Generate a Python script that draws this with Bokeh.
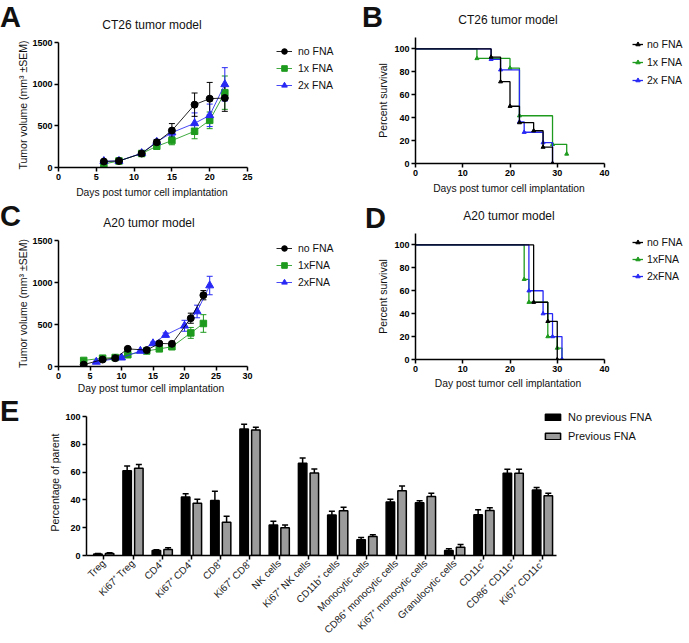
import numpy as np
from bokeh.plotting import figure
from bokeh.layouts import column, row
from bokeh.models import (ColumnDataSource, Whisker, TeeHead, Legend, LegendItem,
                          FixedTicker, Range1d, Div)
from bokeh.embed import file_html
from bokeh.resources import INLINE

FONT = "Liberation Sans"
BLACK = "#000000"
GREEN = "#1e9b1e"
BLUE = "#2828f5"

# ---------------- data ----------------
# Panel A: CT26 tumour growth
days_a = [6, 8, 11, 13, 15, 18, 20, 22]
a_no = [72, 79, 168, 303, 443, 754, 826, 834]
a_no_err = [10, 12, 15, 30, 84, 140, 195, 160]
a_1x = [43, 78, 168, 255, 323, 435, 566, 898]
a_1x_err = [10, 12, 15, 20, 50, 90, 100, 200]
a_2x = [76, 78, 172, 307, 419, 530, 626, 998]
a_2x_err = [10, 12, 15, 30, 40, 125, 135, 200]
a_labels = ["no FNA", "1x FNA", "2x FNA"]

# Panel B: CT26 survival
b_no_t = [0, 16, 18, 20, 22, 25, 27, 29]
b_no_s = [100, 92.9, 71.4, 50, 35.7, 28.6, 14.3, 0]
b_1x_t = [0, 13, 20, 22, 29, 32]
b_1x_s = [100, 91.7, 83.3, 41.7, 16.7, 8.3]
b_2x_t = [0, 16, 18, 22, 23, 27, 29]
b_2x_s = [100, 90.9, 81.8, 36.4, 27.3, 18.2, 0]
b_labels = ["no FNA", "1x FNA", "2x FNA"]

# Panel C: A20 tumour growth
days_c = [4, 7, 9, 11, 14, 16, 18, 21, 23]
c_no = [22, 83, 99, 210, 195, 275, 270, 575, 849]
c_no_err = [10, 15, 15, 20, 15, 20, 25, 60, 55]
c_1x = [72, 99, 107, 140, 185, 210, 235, 400, 512]
c_1x_err = [10, 10, 15, 15, 15, 20, 25, 65, 105]
days_c2 = [6, 10, 13, 15, 17, 20, 22, 24]
c_2x = [55, 105, 185, 275, 375, 485, 655, 964]
c_2x_err = [10, 15, 15, 15, 25, 65, 75, 110]
c_labels = ["no FNA", "1xFNA", "2xFNA"]

# Panel D: A20 survival
d_no_t = [0, 25, 28, 30]
d_no_s = [100, 50, 33.3, 0]
d_1x_t = [0, 23, 24, 28, 30, 31]
d_1x_s = [100, 70, 50, 20, 10, 0]
d_2x_t = [0, 24, 27, 29, 31]
d_2x_s = [100, 60, 40, 20, 0]
d_labels = ["no FNA", "1xFNA", "2xFNA"]

# Panel E: immune populations
cats = ["Treg", "Ki67\u207a Treg", "CD4\u207a", "Ki67\u207a CD4\u207a", "CD8\u207a",
        "Ki67\u207a CD8\u207a", "NK cells", "Ki67\u207a NK cells", "CD11b\u207a cells",
        "Monocytic cells", "CD86\u207a monocytic cells", "Ki67\u207a monocytic cells",
        "Granulocytic cells", "CD11c\u207a", "CD86\u207a CD11c\u207a", "Ki67\u207a CD11c\u207a"]
no_prev = [1, 61, 3.6, 42, 39.5, 91, 22, 66.3, 29.2, 11.3, 38.4, 37.9, 3.6, 29.3, 59.2, 47.2]
no_prev_err = [0.5, 3.4, 0.6, 2.4, 6.7, 3.4, 2.6, 3.8, 2.6, 1.7, 2.1, 1.4, 1.2, 3.7, 2.8, 1.7]
prev = [1.4, 62.7, 4.3, 37.6, 23.9, 90.2, 19.9, 59.3, 32.2, 13.7, 46.5, 42.4, 6, 32.4, 59.2, 42.9]
prev_err = [0.5, 2.8, 1.2, 2.8, 4.3, 2.1, 2.1, 2.9, 2.5, 1.3, 3.5, 2.4, 1.9, 1.9, 2.8, 1.9]
e_labels = ["No previous FNA", "Previous FNA"]

panel_titles = ["CT26 tumor model", "CT26 tumor model", "A20 tumor model", "A20 tumor model"]
x_titles = ["Days post tumor cell implantation", "Days post tumor cell implantation",
            "Day post tumor cell implantation", "Day post tumor cell implantation"]
y_growth = "Tumor volume (mm\u00b3 \u00b1SEM)"
y_surv = "Percent survival"
y_e = "Percentage of parent"


# ---------------- helpers ----------------
def ext(start, end, axis_px, frame_px):
    """Extend a range so that [start, end] spans axis_px of a frame_px wide frame."""
    return (start, start + (end - start) * frame_px / axis_px)


def make_fig(w, h, left, right, top, bottom, xr, yr, xb, yb):
    p = figure(width=w, height=h, x_range=Range1d(*xr), y_range=Range1d(*yr),
               output_backend="svg", toolbar_location=None,
               min_border_left=left, min_border_right=right,
               min_border_top=top, min_border_bottom=bottom)
    p.outline_line_color = None
    p.grid.visible = False
    p.xaxis.bounds = xb
    p.yaxis.bounds = yb
    return p


def style_axes(p, ylabel, xticks, yticks, ystandoff, lab_size="10.5px"):
    p.yaxis.axis_label = ylabel
    p.xaxis.ticker = FixedTicker(ticks=xticks)
    p.yaxis.ticker = FixedTicker(ticks=yticks)
    for ax in (p.xaxis[0], p.yaxis[0]):
        ax.axis_line_width = 1.5
        ax.axis_line_color = "black"
        ax.major_tick_line_width = 1.5
        ax.major_tick_line_color = "black"
        ax.major_tick_in = 0
        ax.major_tick_out = 4
        ax.minor_tick_line_color = None
        ax.major_label_text_font = FONT
        ax.major_label_text_font_style = "bold"
        ax.major_label_text_font_size = "9px"
        ax.major_label_text_color = "black"
        ax.major_label_standoff = 2
        ax.axis_label_text_font = FONT
        ax.axis_label_text_font_style = "normal"
        ax.axis_label_text_font_size = lab_size
        ax.axis_label_text_color = "#111111"
    p.yaxis.axis_label_standoff = ystandoff


def span(text, left, top, size, bold=False, center=False, lh=None):
    tr = "transform:translateX(-50%);" if center else ""
    fw = "bold" if bold else "normal"
    lh = size if lh is None else lh
    return (f'<span style="position:absolute;left:{left}px;top:{top}px;{tr}white-space:nowrap;'
            f'font-family:\'{FONT}\';font-weight:{fw};font-size:{size}px;line-height:{lh}px;'
            f'color:#111;">{text}</span>')


def letter(text, left, top):
    return span(text, left, top, 29, bold=True, lh=34)


def textdiv(w, h, spans):
    html = f'<div style="position:relative;width:{w}px;height:{h}px;">' + "".join(spans) + '</div>'
    return Div(text=html, width=w, height=h, margin=0, styles={"overflow": "visible"})


def growth(p, xs, ys, errs, color, marker, size):
    src = ColumnDataSource(dict(x=xs, y=ys,
                                lo=[v - e for v, e in zip(ys, errs)],
                                hi=[v + e for v, e in zip(ys, errs)]))
    p.add_layout(Whisker(base="x", lower="lo", upper="hi", source=src,
                         line_color=color, line_width=1,
                         upper_head=TeeHead(size=6, line_color=color, line_width=1),
                         lower_head=TeeHead(size=6, line_color=color, line_width=1)))
    lr = p.line("x", "y", source=src, line_color=color, line_width=1, line_alpha=0.85)
    sr = p.scatter("x", "y", source=src, marker=marker, size=size,
                   fill_color=color, line_color=color)
    return [lr, sr]


def survival(p, t, s, color):
    lr = p.step(t, s, mode="after", line_color=color, line_width=1.3)
    sr = p.scatter(t[1:], s[1:], marker="triangle", size=4, fill_color=color, line_color=color)
    return [lr, sr]


def legend(p, labels, rend_lists, x, y, spacing=3, gw=16, gh=14, standoff=6):
    items = [LegendItem(label=l, renderers=r) for l, r in zip(labels, rend_lists)]
    leg = Legend(items=items, location=(x, y), margin=0, padding=0, spacing=spacing,
                 glyph_width=gw, glyph_height=gh, label_height=gh, label_standoff=standoff,
                 label_text_font=FONT, label_text_font_size="10.5px", label_text_color="#111111",
                 border_line_color=None, background_fill_alpha=0)
    p.add_layout(leg)
    return leg


# ---------------- Panel A ----------------
pA = make_fig(345, 157, 58, 2, 12, 20, ext(0, 25, 189, 285), (0, 1500), (0, 25), (0, 1500))
style_axes(pA, y_growth, [0, 5, 10, 15, 20, 25], [0, 500, 1000, 1500], 0)
rA1 = growth(pA, days_a, a_1x, a_1x_err, GREEN, "square", 6.5)
rA2 = growth(pA, days_a, a_2x, a_2x_err, BLUE, "triangle", 8)
rA0 = growth(pA, days_a, a_no, a_no_err, BLACK, "circle", 7)
legend(pA, a_labels, [rA0, rA1, rA2], 218, 75)
hA = textdiv(345, 30, [letter("A", 0, 0), span(panel_titles[0], 152, 19, 12, center=True)])
fA = textdiv(345, 16, [span(x_titles[0], 152, 1, 10.3, center=True)])

# ---------------- Panel B ----------------
pB = make_fig(343, 155, 70, 0, 9, 20, ext(0, 40, 189, 273), (0, 110), (0, 40), (0, 110))
style_axes(pB, y_surv, [0, 10, 20, 30, 40], [0, 20, 40, 60, 80, 100], 2)
rB1 = survival(pB, b_1x_t, b_1x_s, GREEN)
rB2 = survival(pB, b_2x_t, b_2x_s, BLUE)
rB0 = survival(pB, b_no_t, b_no_s, BLACK)
legend(pB, b_labels, [rB0, rB1, rB2], 217, 76, spacing=4, gw=11, standoff=4)
hB = textdiv(343, 28, [letter("B", 17, 0), span(panel_titles[1], 163, 14, 12, center=True)])
fB = textdiv(343, 20, [span(x_titles[1], 164, 1, 10.3, center=True)])

# ---------------- Panel C ----------------
pC = make_fig(345, 151, 58, 2, 7, 18, ext(0, 30, 189, 285), (0, 1500), (0, 30), (0, 1500))
style_axes(pC, y_growth, [0, 5, 10, 15, 20, 25, 30], [0, 500, 1000, 1500], 0)
rC1 = growth(pC, days_c, c_1x, c_1x_err, GREEN, "square", 6.5)
rC2 = growth(pC, days_c2, c_2x, c_2x_err, BLUE, "triangle", 8)
rC0 = growth(pC, days_c, c_no, c_no_err, BLACK, "circle", 7)
legend(pC, c_labels, [rC0, rC1, rC2], 218, 77)
hC = textdiv(345, 30, [letter("C", 0, -4), span(panel_titles[2], 149, 14, 12, center=True)])
fC = textdiv(345, 14, [span(x_titles[2], 151, 0, 10.3, center=True)])

# ---------------- Panel D ----------------
pD = make_fig(343, 150, 70, 0, 4, 20, ext(0, 40, 189, 273), (0, 110), (0, 40), (0, 110))
style_axes(pD, y_surv, [0, 10, 20, 30, 40], [0, 20, 40, 60, 80, 100], 2)
rD1 = survival(pD, d_1x_t, d_1x_s, GREEN)
rD2 = survival(pD, d_2x_t, d_2x_s, BLUE)
rD0 = survival(pD, d_no_t, d_no_s, BLACK)
legend(pD, d_labels, [rD0, rD1, rD2], 217, 76, spacing=3, gw=11, standoff=4)
hD = textdiv(343, 26, [letter("D", 20, -2), span(panel_titles[3], 164, 7, 12, center=True)])
fD = textdiv(343, 19, [span(x_titles[3], 163, 0, 10.3, center=True)])

# ---------------- Panel E ----------------
xr_e = ext(-0.59, 15.48, 470, 602)
yr_e = ext(0, 100, 139, 146)
pE = make_fig(658, 244, 56, 0, 11, 87, xr_e, yr_e, (-0.59, 15.48), (0, 100))
idx = np.arange(len(cats))
style_axes(pE, y_e, list(range(len(cats))), [0, 20, 40, 60, 80, 100], 1, lab_size="10.5px")
pE.xaxis.major_label_overrides = {int(i): c for i, c in zip(idx, cats)}
pE.xaxis.major_label_orientation = np.pi / 4
pE.xaxis.major_label_text_font_style = "normal"
pE.xaxis.major_label_text_font_size = "10px"
pE.xaxis.major_label_text_color = "#222222"

off = 0.2
bw = 0.29
src_no = ColumnDataSource(dict(x=idx - off, top=no_prev,
                               hi=[v + e for v, e in zip(no_prev, no_prev_err)]))
src_pr = ColumnDataSource(dict(x=idx + off, top=prev,
                               hi=[v + e for v, e in zip(prev, prev_err)]))
for s in (src_no, src_pr):
    pE.add_layout(Whisker(base="x", lower="top", upper="hi", source=s, line_color="black",
                          line_width=1.5, lower_head=None,
                          upper_head=TeeHead(size=6, line_color="black", line_width=1.5)))
rE0 = pE.vbar(x="x", top="top", width=bw, source=src_no, fill_color="black",
              line_color="black", line_width=1.5)
rE1 = pE.vbar(x="x", top="top", width=bw, source=src_pr, fill_color="#9b9b9b",
              line_color="black", line_width=1.5)
legE = Legend(items=[LegendItem(label=e_labels[0], renderers=[rE0]),
                     LegendItem(label=e_labels[1], renderers=[rE1])],
              location=(457, 113), margin=0, padding=0, spacing=6,
              glyph_width=19, glyph_height=8, label_height=13, label_standoff=6,
              label_text_font=FONT, label_text_font_size="11px", label_text_color="#111111",
              border_line_color=None, background_fill_alpha=0)
pE.add_layout(legE)
hE = textdiv(30, 244, [letter("E", 0, -4)])

layout = column(row(column(hA, pA, fA), column(hB, pB, fB)),
                row(column(hC, pC, fC), column(hD, pD, fD)),
                row(hE, pE))
open("out.html", "w").write(file_html(layout, INLINE))
